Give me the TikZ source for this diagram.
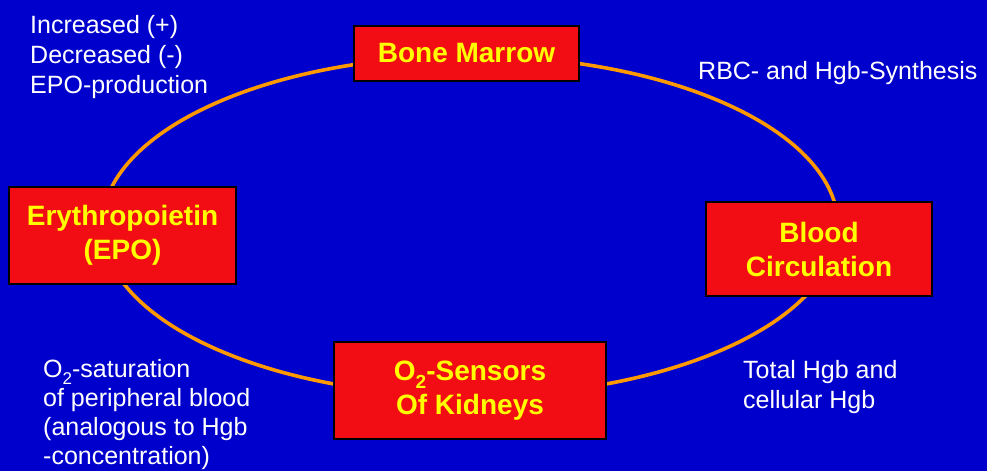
\documentclass[tikz,border=0pt]{standalone}
\usepackage{fontspec}
\setmainfont{Liberation Sans}
\definecolor{bg}{HTML}{0000CC}
\definecolor{boxred}{HTML}{F20C14}
\definecolor{ring}{HTML}{FF9900}
\definecolor{boxtext}{HTML}{FFFF00}
\newcommand{\subtwo}[1]{\raisebox{-0.28em}{\fontsize{#1}{#1}\selectfont 2}}
\begin{document}
\begin{tikzpicture}[x=1pt,y=-1pt,
  box/.style={draw=black, line width=2.5pt, fill=boxred, text=boxtext,
    font=\fontsize{28}{34}\selectfont\bfseries, align=center, inner sep=0pt},
  lbl/.style={text=white, font=\fontsize{25}{30}\selectfont, anchor=base west, inner sep=0pt},
  ringline/.style={draw=ring, line width=3.6pt}]
\fill[bg] (0,0) rectangle (987,471);
\useasboundingbox (0,0) rectangle (987,471);
\draw[ringline] (470,226) ellipse [x radius=368, y radius=170];
\node[box, minimum width=225pt, minimum height=55pt] (bm) at (466.5,53.5) {Bone Marrow};
\node[box, minimum width=227pt, minimum height=97pt] (epo) at (122.5,235.5) {Erythropoietin\\(EPO)};
\node[box, minimum width=226pt, minimum height=94pt] (bc) at (819,249) {Blood\\Circulation};
\node[box, minimum width=272pt, minimum height=97pt] (o2) at (470,390.5) {O\subtwo{19}-Sensors\\Of Kidneys};
\node[lbl] (inc) at (30,33) {\begin{tabular}[t]{@{}l@{}}Increased (+)\\Decreased (-)\\EPO-production\end{tabular}};
\node[lbl] (rbc) at (698,79) {RBC- and Hgb-Synthesis};
\node[lbl] (tot) at (743,378) {\begin{tabular}[t]{@{}l@{}}Total Hgb and\\cellular Hgb\end{tabular}};
\node[lbl, font=\fontsize{25}{29}\selectfont] (sat) at (43,377) {\begin{tabular}[t]{@{}l@{}}O\subtwo{17}-saturation\\of peripheral blood\\(analogous to Hgb\\-concentration)\end{tabular}};
\end{tikzpicture}
\end{document}
